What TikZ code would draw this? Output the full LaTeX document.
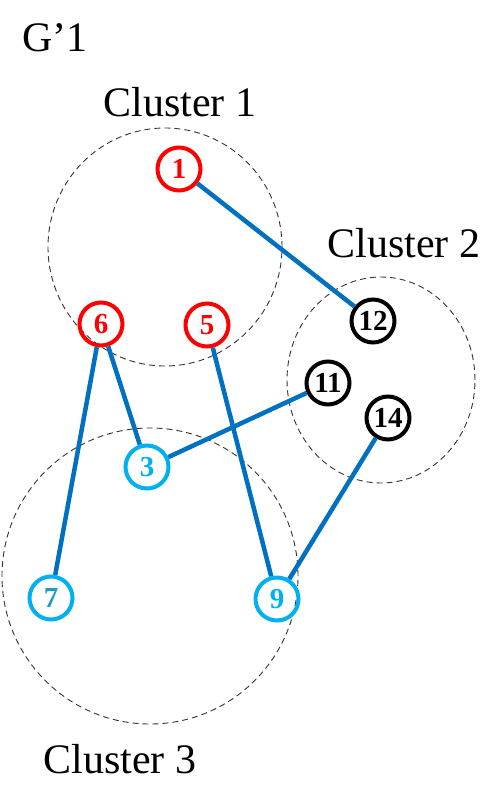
\documentclass[tikz,border=0pt]{standalone}
\usepackage{fontspec}
\setmainfont{Liberation Serif}
\definecolor{nred}{RGB}{255,0,0}
\definecolor{ncyan}{RGB}{0,176,240}
\definecolor{nteal}{RGB}{30,155,195}
\definecolor{eblue}{RGB}{0,112,192}

\begin{document}
\begin{tikzpicture}[x=1pt, y=-1pt,
	vert/.style={circle, draw, line width=4pt, minimum size=43pt, inner sep=0pt, font=\fontsize{29}{29}\selectfont\bfseries},
	cl/.style={draw, dashed, dash pattern=on 6pt off 4pt, line width=0.9pt, black!80},
	lbl/.style={font=\fontsize{42}{42}\selectfont},
	edge/.style={line width=4.5pt, eblue}]
	\useasboundingbox (0,0) rectangle (484,787);
	
	% clusters
	\draw[cl] (165,247) ellipse [x radius=117pt, y radius=119pt];
	\draw[cl] (381,380) ellipse [x radius=94pt, y radius=103pt];
	\draw[cl] (150,576) ellipse [x radius=148pt, y radius=148pt];
	
	\node[lbl] (g) at (55,38) {G’1};
	\node[lbl] (c1) at (180,102) {Cluster 1};
	\node[lbl] (c2) at (404,243) {Cluster 2};
	\node[lbl] (c3) at (120,759) {Cluster 3};
	
	% vertices
	\node[vert, draw=nred, text=nred] (v1) at (179,169) {1};
	\node[vert, draw=nred, text=nred] (v6) at (101,324) {6};
	\node[vert, draw=nred, text=nred] (v5) at (207,325) {5};
	\node[vert, draw=black] (v12) at (373,321) {12};
	\node[vert, draw=black] (v11) at (328,383) {11};
	\node[vert, draw=black] (v14) at (388,418) {14};
	\node[vert, draw=ncyan, text=ncyan] (v3) at (147,467) {3};
	\node[vert, draw=ncyan, text=nteal] (v7) at (51,598) {7};
	\node[vert, draw=ncyan, text=ncyan] (v9) at (277,599) {9};
	
	% edges
	\draw[edge] (v1) -- (v12);
	\draw[edge] (v6) -- (v7);
	\draw[edge] (v6) -- (v3);
	\draw[edge] (v3) -- (v11);
	\draw[edge] (v5) -- (v9);
	\draw[edge] (v14) -- (v9);
	
\end{tikzpicture}
\end{document}
